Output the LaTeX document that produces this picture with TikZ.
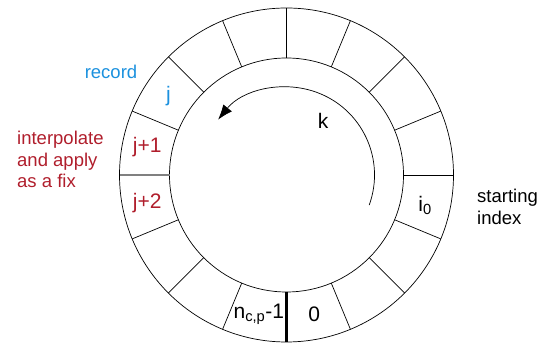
\documentclass[tikz,border=0pt]{standalone}
\usepackage{fontspec}
\setmainfont{Liberation Sans}
\usetikzlibrary{arrows.meta, calc}

\definecolor{recblue}{RGB}{28,145,222}
\definecolor{fixred}{RGB}{176,30,44}

\begin{document}
\begin{tikzpicture}[
    x=1pt, y=1pt,
    >=Latex, % Set default arrow tip style
    ring/.style={black, line width=0.7pt}, % Style for the two circles
    divider/.style={black, line width=0.7pt}, % Style for the cell borders
    cell/.style={font=\fontsize{21}{25}\selectfont, inner sep=0pt}, % Labels in the cells
    sidelabel/.style={font=\fontsize{18.5}{21.5}\selectfont, align=left, inner sep=0pt}, % Notes beside the ring
    turn/.style={->, line width=0.7pt, >={Latex[length=15pt,width=11pt]}} % Style for the arc arrow
]

    % Fix the picture size
    \useasboundingbox (0,0) rectangle (552,344);

    % Define radii
    \def\outr{167}
    \def\inr{117}
    \def\midr{142}
    \coordinate (c) at (286.5,169);

    % The ring
    \draw[ring] (c) circle (\outr);
    \draw[ring] (c) circle (\inr);

    % Cell borders, every 22.5 degrees
    \foreach \a in {0,22.5,...,337.5} {
        \ifdim\a pt=270pt\else
            \ifdim\a pt=180pt\else
                \draw[divider] ($(c)+(\a:\inr)$) -- ($(c)+(\a:\outr)$);
            \fi
        \fi
    }
    % Grey border between j+1 and j+2
    \draw[gray, line width=1.3pt] ($(c)+(180:\inr)$) -- ($(c)+(180:\outr)$);
    % Bold border between the last and the first cell
    \draw[line width=2.8pt] ($(c)+(270:\inr)$) -- ($(c)+(270:\outr)$);

    % Labels in the cells
    \node[cell, recblue] (cj) at ($(c)+(146.25:\midr)$) {j};
    \node[cell, fixred] (cj1) at ($(c)+(168.75:\midr)$) {j+1};
    \node[cell, fixred] (cj2) at ($(c)+(191.25:\midr)$) {j+2};
    \node[cell] (ci0) at ($(c)+(347.5:\midr)$) {i\textsubscript{0}};
    \node[cell] (czero) at ($(c)+(281.25:\midr)$) {0};
    \node[cell] (clast) at ($(c)+(258.75:\midr)$) {n\textsubscript{c,p}-1};

    % Direction of k
    \draw[turn] ($(c)+(-20:88)$) arc (-20:141:88);
    \node[cell] (k) at ($(c)+(36.5,54)$) {k};

    % Notes beside the ring
    \node[sidelabel, recblue] (record) at (111,272) {record};
    \node[sidelabel, fixred, anchor=north west] (fix) at (17,213)
        {interpolate\\and apply\\as a fix};
    \node[sidelabel, anchor=west] (start) at (477,137) {starting\\index};

\end{tikzpicture}
\end{document}
